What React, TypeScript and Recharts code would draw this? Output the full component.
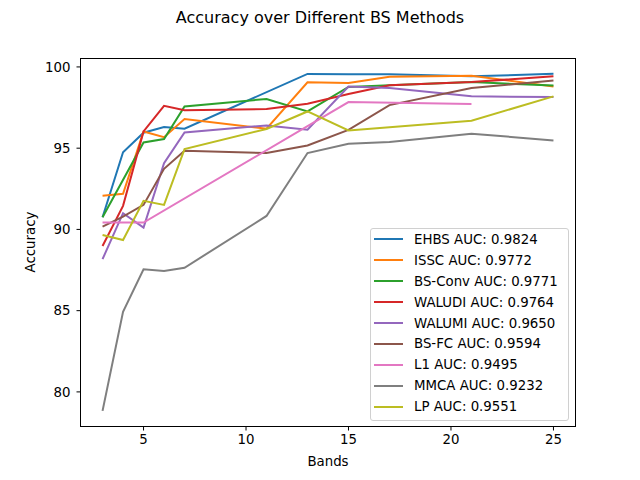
import React from "react"
import { LineChart, Line, XAxis, YAxis } from "recharts"

// bands (x) and accuracy (y) per method
const ehbsBands = [3, 4, 5, 6, 7, 13, 15, 17, 21, 25]
const ehbsAcc = [90.75, 94.75, 95.95, 96.3, 96.2, 99.57, 99.55, 99.55, 99.42, 99.58]

const isscBands = [3, 4, 5, 6, 7, 11, 13, 15, 17, 21, 25]
const isscAcc = [92.07, 92.19, 96.03, 95.68, 96.79, 96.2, 99.05, 99.01, 99.4, 99.46, 98.8]

const convBands = [3, 5, 6, 7, 11, 13, 15, 17, 21, 25]
const convAcc = [90.75, 95.35, 95.56, 97.57, 98.03, 97.26, 98.77, 98.88, 99.07, 98.85]

const waludiBands = [3, 4, 5, 6, 7, 11, 13, 15, 17, 21, 25]
const waludiAcc = [88.98, 91.45, 96.03, 97.61, 97.33, 97.41, 97.73, 98.33, 98.87, 99.07, 99.42]

const walumiBands = [3, 4, 5, 6, 7, 11, 13, 15, 17, 21, 25]
const walumiAcc = [88.17, 91.0, 90.11, 94.08, 95.97, 96.4, 96.14, 98.79, 98.7, 98.19, 98.15]

const bsfcBands = [3, 4, 5, 6, 7, 11, 13, 15, 17, 21, 25]
const bsfcAcc = [90.17, 90.79, 91.51, 93.73, 94.84, 94.7, 95.17, 96.13, 97.65, 98.7, 99.17]

const l1Bands = [3, 4, 5, 13, 15, 21]
const l1Acc = [90.42, 90.42, 90.42, 96.36, 97.84, 97.72]

const mmcaBands = [3, 4, 5, 6, 7, 11, 13, 15, 17, 21, 25]
const mmcaAcc = [78.83, 84.93, 87.55, 87.44, 87.64, 90.83, 94.7, 95.27, 95.38, 95.89, 95.48]

const lpBands = [3, 4, 5, 6, 7, 11, 13, 15, 21, 25]
const lpAcc = [89.66, 89.35, 91.76, 91.51, 94.94, 96.18, 97.26, 96.09, 96.69, 98.19]

const methods = ["EHBS", "ISSC", "BS-Conv", "WALUDI", "WALUMI", "BS-FC", "L1", "MMCA", "LP"]
const aucs = ["0.9824", "0.9772", "0.9771", "0.9764", "0.9650", "0.9594", "0.9495", "0.9232", "0.9551"]
const colors = ["#1f77b4", "#ff7f0e", "#2ca02c", "#d62728", "#9467bd", "#8c564b", "#e377c2", "#7f7f7f", "#bcbd22"]

const xTicks = [5, 10, 15, 20, 25]
const yTicks = [80, 85, 90, 95, 100]

const toPoints = (bands: number[], acc: number[]) => bands.map((band, i) => ({ band, acc: acc[i] }))

const series = [
  toPoints(ehbsBands, ehbsAcc),
  toPoints(isscBands, isscAcc),
  toPoints(convBands, convAcc),
  toPoints(waludiBands, waludiAcc),
  toPoints(walumiBands, walumiAcc),
  toPoints(bsfcBands, bsfcAcc),
  toPoints(l1Bands, l1Acc),
  toPoints(mmcaBands, mmcaAcc),
  toPoints(lpBands, lpAcc),
]

const font = "'DejaVu Sans', sans-serif"
const tickStyle = { fill: "#000", fontSize: 13.33, fontFamily: font }

export default function App() {
  return (
    <div style={{ position: "absolute", left: 0, top: 0, width: 640, height: 480, background: "#fff", fontFamily: font }}>
      <LineChart width={640} height={480} margin={{ top: 58, right: 64, left: 0, bottom: 0 }}>
        <XAxis
          dataKey="band"
          type="number"
          domain={[1.9, 26.1]}
          ticks={xTicks}
          allowDataOverflow
          height={53}
          axisLine={false}
          tickLine={{ stroke: "#000" }}
          tickSize={3.5}
          tickMargin={4}
          tick={tickStyle}
        />
        <YAxis
          type="number"
          domain={[77.84, 100.55]}
          ticks={yTicks}
          allowDataOverflow
          width={80}
          axisLine={false}
          tickLine={{ stroke: "#000" }}
          tickSize={3.5}
          tickMargin={6}
          tick={tickStyle}
        />
        {series.map((pts, i) => (
          <Line
            key={methods[i]}
            data={pts}
            dataKey="acc"
            type="linear"
            stroke={colors[i]}
            strokeWidth={2}
            dot={false}
            isAnimationActive={false}
          />
        ))}
      </LineChart>

      {/* axes frame */}
      <div style={{ position: "absolute", left: 80, top: 58, width: 496, height: 369, border: "1px solid #000", boxSizing: "border-box", pointerEvents: "none" }} />

      {/* title and axis labels */}
      <div style={{ position: "absolute", left: 0, top: 8, width: 640, textAlign: "center", fontSize: 16, lineHeight: "20px" }}>
        Accuracy over Different BS Methods
      </div>
      <div style={{ position: "absolute", left: 80, top: 453, width: 496, textAlign: "center", fontSize: 13.33, lineHeight: "18px" }}>
        Bands
      </div>
      <div
        style={{
          position: "absolute",
          left: 31 - 60,
          top: 242 - 9,
          width: 120,
          textAlign: "center",
          fontSize: 13.33,
          lineHeight: "18px",
          transform: "rotate(-90deg)",
        }}
      >
        Accuracy
      </div>

      {/* legend */}
      <div
        style={{
          position: "absolute",
          left: 370,
          top: 228,
          width: 199,
          height: 193,
          boxSizing: "border-box",
          border: "1px solid #d0d0d0",
          borderRadius: 3,
          background: "rgba(255,255,255,0.8)",
        }}
      >
        {methods.map((m, i) => (
          <div key={m} style={{ display: "flex", alignItems: "center", height: 20.9 }}>
            <div style={{ marginLeft: 3, width: 29, height: 2, background: colors[i] }} />
            <span style={{ marginLeft: 11, fontSize: 13.33, color: "#000", whiteSpace: "nowrap" }}>
              {m} AUC: {aucs[i]}
            </span>
          </div>
        ))}
      </div>
    </div>
  )
}
